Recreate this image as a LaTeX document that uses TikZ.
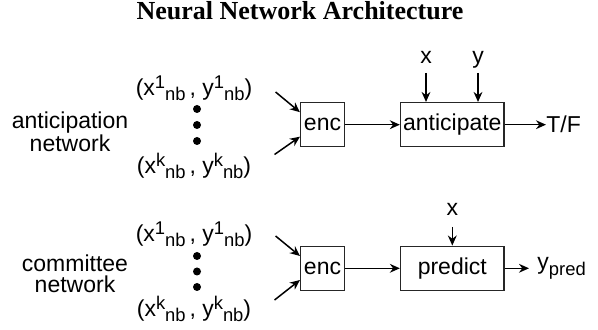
\documentclass[tikz,border=0pt]{standalone}
\usepackage{fontspec}
\setmainfont{Liberation Sans}
\newfontfamily\titlefont{Liberation Serif}
\usetikzlibrary{arrows.meta, positioning, calc}
\newcommand{\sps}[1]{\raisebox{0.3em}{\fontsize{9.2}{10}\selectfont #1}}
\newcommand{\sbs}[1]{\raisebox{-0.22em}{\fontsize{9.2}{10}\selectfont #1}}
\newcommand{\nbpair}[1]{(x\sps{#1}\sbs{nb}\,, y\sps{#1}\sbs{nb})}
\tikzset{
  blockbox/.style={
    draw=black!85, rectangle, line width=0.75pt,
    minimum height=22pt, inner sep=1pt
  },
  arrow/.style={
    -{Stealth[length=5pt, width=4.4pt]}, line width=0.75pt
  },
  plain/.style={inner sep=0pt},
  dotmark/.style={circle, fill=black, inner sep=0pt, minimum size=4pt}
}
\begin{document}
\begin{tikzpicture}[x=0.5pt, y=-0.5pt, font=\fontsize{11.5}{10.5}\selectfont]
  \useasboundingbox (0,0) rectangle (598,330);
  \node[plain, font=\titlefont\bfseries\fontsize{13}{15}\selectfont] (title) at (300,11) {Neural Network Architecture};

  % anticipation network
  \node[plain, align=center] (antlbl) at (70,132) {anticipation\\network};
  \node[plain] (pa1) at (194,88) {\nbpair{1}};
  \node[plain] (pak) at (194,166) {\nbpair{k}};
  \foreach \i/\yy in {1/109,2/125,3/141}
    \node[dotmark] (da\i) at (197,\yy) {};
  \node[blockbox, minimum width=21.8pt] (enca) at (322.5,124.7) {enc};
  \node[blockbox, minimum width=51.7pt] (anticip) at (452.3,124.7) {anticipate};
  \node[plain, anchor=west] (tf) at (546,124.7) {T/F};
  \node[plain, anchor=base] (xa) at (426,63.5) {x};
  \node[plain, anchor=base] (ya) at (478,63.5) {y};

  \draw[arrow] ($(pa1.east)+(23,4)$) -- ($(enca.west)+(0,-12.5)$);
  \draw[arrow] ($(pak.east)+(23,-11.5)$) -- ($(enca.west)+(0,12)$);
  \draw[arrow] (enca) -- (anticip);
  \draw[arrow] (anticip) -- (tf);
  \draw[arrow] ($(xa.base)+(0,9.5)$) -- (xa.base |- anticip.north);
  \draw[arrow] ($(ya.base)+(0,9.5)$) -- (ya.base |- anticip.north);

  % committee network
  \node[plain, align=center] (comlbl) at (75,274) {committee\\network};
  \node[plain] (pb1) at (194,234) {\nbpair{1}};
  \node[plain] (pbk) at (194,309) {\nbpair{k}};
  \foreach \i/\yy in {1/256,2/271.5,3/287}
    \node[dotmark] (db\i) at (197,\yy) {};
  \node[blockbox, minimum width=21.8pt] (encb) at (322.5,268.3) {enc};
  \node[blockbox, minimum width=51.7pt] (predict) at (452.3,268.3) {predict};
  \node[plain, anchor=base west] (ypred) at (537,270) {y\sbs{pred}};
  \node[plain, anchor=base] (xb) at (452.3,215.5) {x};

  \draw[arrow] ($(pb1.east)+(23,2)$) -- ($(encb.west)+(0,-12.3)$);
  \draw[arrow] ($(pbk.east)+(23,-9)$) -- ($(encb.west)+(0,11.7)$);
  \draw[arrow] (encb) -- (predict);
  \draw[arrow, shorten >=4pt] (predict.east) -- (predict.east -| ypred.west);
  \draw[arrow] ($(xb.base)+(0,11.5)$) -- (predict.north);
\end{tikzpicture}
\end{document}
